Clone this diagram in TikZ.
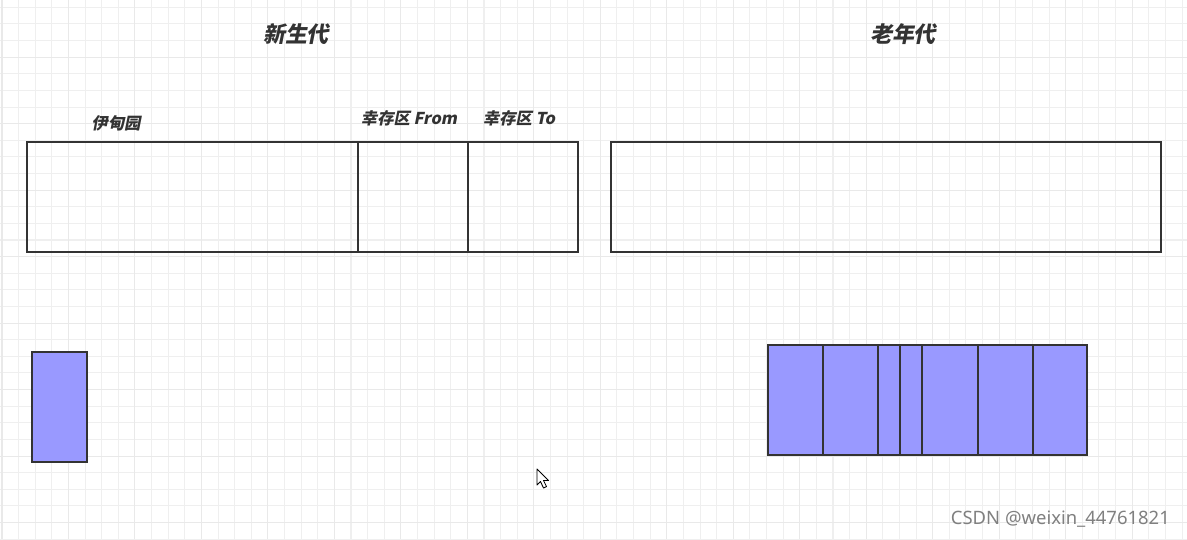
\documentclass[tikz,border=0pt]{standalone}
\usepackage{fontspec}
\newfontfamily\cjk[FakeSlant=0.2]{Noto Sans CJK SC}
\newfontfamily\wmfont{Noto Sans}
\usetikzlibrary{positioning}
\definecolor{objfill}{HTML}{9999FF}
\definecolor{edge}{HTML}{333333}
\definecolor{minorgrid}{HTML}{EFEFEF}
\definecolor{majorgrid}{HTML}{E9E9E9}
\tikzset{
  region/.style={draw=edge, line width=1.1pt},
  objbox/.style={draw=edge, line width=1.1pt, fill=objfill},
  title/.style={font=\cjk\bfseries\fontsize{12.5}{14}\selectfont, text=edge},
  label/.style={font=\cjk\bfseries\fontsize{9.3}{11}\selectfont, text=edge},
}
\begin{document}
\begin{tikzpicture}[x=0.02cm, y=-0.02cm]
				\useasboundingbox (0,0) rectangle (1187,539);
				\fill[white] (0,0) rectangle (1187,539);
				% background grid
				\foreach \k in {0,...,71} {
				  \draw[minorgrid, line width=0.6pt] (2+16.62*\k,0) -- (2+16.62*\k,539);
				}
				\foreach \k in {0,...,32} {
				  \draw[minorgrid, line width=0.6pt] (0,7.3+16.62*\k) -- (1187,7.3+16.62*\k);
				}
				\foreach \k in {0,...,17} {
				  \draw[majorgrid, line width=0.6pt] (2+66.48*\k,0) -- (2+66.48*\k,539);
				}
				\foreach \k in {0,...,7} {
				  \draw[majorgrid, line width=0.6pt] (0,57.3+66.48*\k) -- (1187,57.3+66.48*\k);
				}
				% heap regions
				\draw[region] (27,142) rectangle (578,252);
				\draw[region] (358,142) -- (358,252);
				\draw[region] (468,142) -- (468,252);
				\draw[region] (611,142) rectangle (1161,252);
				\node[title] (young) at (296,34) {新生代};
				\node[title] (old) at (903,34) {老年代};
				\node[label] (eden) at (116,123) {伊甸园};
				\node[label] (from) at (409,118) {幸存区 From};
				\node[label] (to) at (519,118) {幸存区 To};
				% objects
				\draw[objbox] (32,352) rectangle (87,462);
				\draw[objbox] (768,345) rectangle (1087,455);
				\foreach \x in {823,878,900,922,978,1033} {
				  \draw[region] (\x,345) -- (\x,455);
				}
				% mouse pointer
				\draw[fill=white, line width=0.5pt, line join=round] (537,469) -- (537,485) -- (540.5,481.5) -- (543.5,488) -- (546.5,486.5) -- (543.5,480.5) -- (548.5,480.5) -- cycle;
				\node[text=gray, font=\wmfont\fontsize{10.5}{12}\selectfont, anchor=east] (mark) at (1176,519) {CSDN @weixin\_44761821};
		    \end{tikzpicture}
\end{document}
